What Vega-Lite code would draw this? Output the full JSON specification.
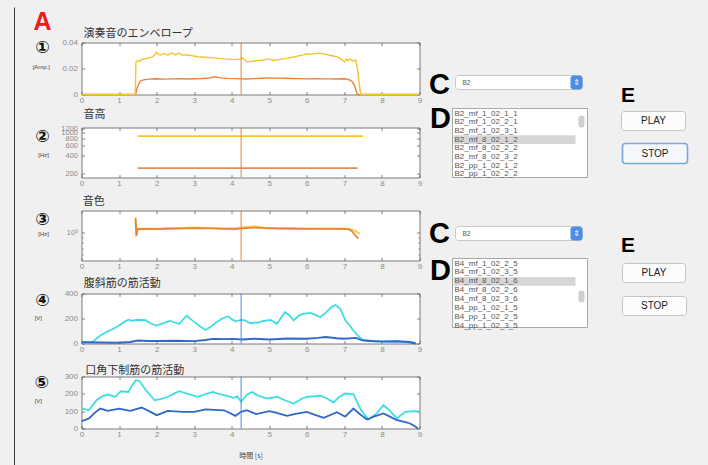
{
  "$schema": "https://vega.github.io/schema/vega-lite/v6.json",
  "background": "#f0f0f0",
  "padding": {"left": 13.5, "top": 6.5, "right": 8, "bottom": 0},
  "spacing": 4,
  "datasets": {
    "p1": [
      {"t":0,"v":0,"s":"O"},{"t":1.44,"v":0,"s":"O"},{"t":1.47,"v":0.004,"s":"O"},{"t":1.52,"v":0.008,"s":"O"},{"t":1.58,"v":0.0105,"s":"O"},{"t":1.65,"v":0.0113,"s":"O"},{"t":1.8,"v":0.0118,"s":"O"},{"t":2.0,"v":0.0121,"s":"O"},{"t":2.2,"v":0.0118,"s":"O"},{"t":2.4,"v":0.012,"s":"O"},{"t":2.6,"v":0.0122,"s":"O"},{"t":2.8,"v":0.0119,"s":"O"},{"t":3.0,"v":0.0121,"s":"O"},{"t":3.2,"v":0.0123,"s":"O"},{"t":3.4,"v":0.0127,"s":"O"},{"t":3.55,"v":0.0136,"s":"O"},{"t":3.7,"v":0.0128,"s":"O"},{"t":3.9,"v":0.0124,"s":"O"},{"t":4.1,"v":0.0122,"s":"O"},{"t":4.25,"v":0.012,"s":"O"},{"t":4.4,"v":0.0119,"s":"O"},{"t":4.6,"v":0.0122,"s":"O"},{"t":4.8,"v":0.0125,"s":"O"},{"t":5.0,"v":0.0128,"s":"O"},{"t":5.2,"v":0.0126,"s":"O"},{"t":5.4,"v":0.0125,"s":"O"},{"t":5.6,"v":0.0123,"s":"O"},{"t":5.8,"v":0.0122,"s":"O"},{"t":6.0,"v":0.012,"s":"O"},{"t":6.2,"v":0.0121,"s":"O"},{"t":6.4,"v":0.012,"s":"O"},{"t":6.6,"v":0.012,"s":"O"},{"t":6.8,"v":0.0119,"s":"O"},{"t":7.0,"v":0.0121,"s":"O"},{"t":7.1,"v":0.0117,"s":"O"},{"t":7.2,"v":0.0102,"s":"O"},{"t":7.27,"v":0.007,"s":"O"},{"t":7.32,"v":0.002,"s":"O"},{"t":7.35,"v":0,"s":"O"},{"t":9,"v":0,"s":"O"},
      {"t":0,"v":0,"s":"Y"},{"t":1.43,"v":0,"s":"Y"},{"t":1.45,"v":0.025,"s":"Y"},{"t":1.5,"v":0.0262,"s":"Y"},{"t":1.55,"v":0.0255,"s":"Y"},{"t":1.6,"v":0.027,"s":"Y"},{"t":1.7,"v":0.0275,"s":"Y"},{"t":1.8,"v":0.0282,"s":"Y"},{"t":1.9,"v":0.029,"s":"Y"},{"t":2.0,"v":0.0325,"s":"Y"},{"t":2.1,"v":0.0302,"s":"Y"},{"t":2.2,"v":0.0316,"s":"Y"},{"t":2.3,"v":0.0303,"s":"Y"},{"t":2.4,"v":0.032,"s":"Y"},{"t":2.5,"v":0.0305,"s":"Y"},{"t":2.6,"v":0.0318,"s":"Y"},{"t":2.7,"v":0.0301,"s":"Y"},{"t":2.8,"v":0.0306,"s":"Y"},{"t":2.95,"v":0.0298,"s":"Y"},{"t":3.1,"v":0.029,"s":"Y"},{"t":3.3,"v":0.0286,"s":"Y"},{"t":3.5,"v":0.0282,"s":"Y"},{"t":3.7,"v":0.0276,"s":"Y"},{"t":3.9,"v":0.0272,"s":"Y"},{"t":4.1,"v":0.0268,"s":"Y"},{"t":4.2,"v":0.0272,"s":"Y"},{"t":4.3,"v":0.028,"s":"Y"},{"t":4.4,"v":0.0252,"s":"Y"},{"t":4.55,"v":0.0256,"s":"Y"},{"t":4.7,"v":0.0262,"s":"Y"},{"t":4.85,"v":0.0265,"s":"Y"},{"t":5.0,"v":0.0274,"s":"Y"},{"t":5.1,"v":0.0262,"s":"Y"},{"t":5.3,"v":0.027,"s":"Y"},{"t":5.5,"v":0.028,"s":"Y"},{"t":5.7,"v":0.0292,"s":"Y"},{"t":5.9,"v":0.0305,"s":"Y"},{"t":6.0,"v":0.0313,"s":"Y"},{"t":6.1,"v":0.0309,"s":"Y"},{"t":6.3,"v":0.0318,"s":"Y"},{"t":6.5,"v":0.031,"s":"Y"},{"t":6.7,"v":0.0296,"s":"Y"},{"t":6.85,"v":0.0285,"s":"Y"},{"t":6.95,"v":0.0265,"s":"Y"},{"t":7.0,"v":0.025,"s":"Y"},{"t":7.05,"v":0.0272,"s":"Y"},{"t":7.1,"v":0.026,"s":"Y"},{"t":7.15,"v":0.0276,"s":"Y"},{"t":7.22,"v":0.0258,"s":"Y"},{"t":7.3,"v":0.0264,"s":"Y"},{"t":7.35,"v":0.02,"s":"Y"},{"t":7.4,"v":0.007,"s":"Y"},{"t":7.44,"v":0,"s":"Y"},{"t":9,"v":0,"s":"Y"}
    ],
    "p2": [
      {"t":1.5,"v":247,"s":"O"},{"t":7.35,"v":247,"s":"O"},
      {"t":1.5,"v":880,"s":"Y"},{"t":7.5,"v":880,"s":"Y"}
    ],
    "p3": [
      {"t":1.44,"v":1350,"s":"Y"},{"t":1.46,"v":960,"s":"Y"},{"t":1.5,"v":1095,"s":"Y"},{"t":1.7,"v":1100,"s":"Y"},{"t":2.0,"v":1095,"s":"Y"},{"t":2.3,"v":1105,"s":"Y"},{"t":2.6,"v":1110,"s":"Y"},{"t":3.0,"v":1125,"s":"Y"},{"t":3.4,"v":1115,"s":"Y"},{"t":3.8,"v":1100,"s":"Y"},{"t":4.1,"v":1110,"s":"Y"},{"t":4.3,"v":1125,"s":"Y"},{"t":4.6,"v":1150,"s":"Y"},{"t":4.9,"v":1120,"s":"Y"},{"t":5.2,"v":1110,"s":"Y"},{"t":5.6,"v":1105,"s":"Y"},{"t":6.0,"v":1100,"s":"Y"},{"t":6.4,"v":1098,"s":"Y"},{"t":6.8,"v":1100,"s":"Y"},{"t":7.1,"v":1095,"s":"Y"},{"t":7.25,"v":1060,"s":"Y"},{"t":7.35,"v":1000,"s":"Y"},{"t":7.42,"v":975,"s":"Y"},
      {"t":1.44,"v":1410,"s":"O"},{"t":1.46,"v":920,"s":"O"},{"t":1.5,"v":1080,"s":"O"},{"t":1.7,"v":1085,"s":"O"},{"t":2.0,"v":1082,"s":"O"},{"t":2.3,"v":1090,"s":"O"},{"t":2.6,"v":1095,"s":"O"},{"t":3.0,"v":1105,"s":"O"},{"t":3.4,"v":1100,"s":"O"},{"t":3.8,"v":1085,"s":"O"},{"t":4.1,"v":1080,"s":"O"},{"t":4.3,"v":1100,"s":"O"},{"t":4.6,"v":1120,"s":"O"},{"t":4.9,"v":1105,"s":"O"},{"t":5.2,"v":1095,"s":"O"},{"t":5.6,"v":1090,"s":"O"},{"t":6.0,"v":1088,"s":"O"},{"t":6.4,"v":1085,"s":"O"},{"t":6.8,"v":1088,"s":"O"},{"t":7.1,"v":1082,"s":"O"},{"t":7.2,"v":1030,"s":"O"},{"t":7.3,"v":930,"s":"O"},{"t":7.37,"v":870,"s":"O"}
    ],
    "p4": [
      {"t":0,"v":10,"s":"C"},{"t":0.2,"v":8,"s":"C"},{"t":0.3,"v":15,"s":"C"},{"t":0.5,"v":64,"s":"C"},{"t":0.65,"v":90,"s":"C"},{"t":0.8,"v":110,"s":"C"},{"t":1.0,"v":144,"s":"C"},{"t":1.15,"v":175,"s":"C"},{"t":1.25,"v":190,"s":"C"},{"t":1.35,"v":182,"s":"C"},{"t":1.5,"v":190,"s":"C"},{"t":1.7,"v":186,"s":"C"},{"t":1.85,"v":160,"s":"C"},{"t":2.0,"v":144,"s":"C"},{"t":2.2,"v":165,"s":"C"},{"t":2.35,"v":180,"s":"C"},{"t":2.45,"v":172,"s":"C"},{"t":2.6,"v":157,"s":"C"},{"t":2.8,"v":222,"s":"C"},{"t":2.95,"v":185,"s":"C"},{"t":3.1,"v":150,"s":"C"},{"t":3.3,"v":108,"s":"C"},{"t":3.45,"v":135,"s":"C"},{"t":3.6,"v":172,"s":"C"},{"t":3.75,"v":200,"s":"C"},{"t":3.9,"v":218,"s":"C"},{"t":4.0,"v":195,"s":"C"},{"t":4.1,"v":178,"s":"C"},{"t":4.25,"v":189,"s":"C"},{"t":4.35,"v":185,"s":"C"},{"t":4.5,"v":162,"s":"C"},{"t":4.7,"v":168,"s":"C"},{"t":4.85,"v":180,"s":"C"},{"t":5.03,"v":189,"s":"C"},{"t":5.2,"v":157,"s":"C"},{"t":5.3,"v":200,"s":"C"},{"t":5.42,"v":251,"s":"C"},{"t":5.55,"v":220,"s":"C"},{"t":5.65,"v":184,"s":"C"},{"t":5.8,"v":225,"s":"C"},{"t":5.9,"v":237,"s":"C"},{"t":6.1,"v":245,"s":"C"},{"t":6.25,"v":225,"s":"C"},{"t":6.36,"v":210,"s":"C"},{"t":6.5,"v":245,"s":"C"},{"t":6.65,"v":290,"s":"C"},{"t":6.76,"v":309,"s":"C"},{"t":6.89,"v":277,"s":"C"},{"t":7.03,"v":184,"s":"C"},{"t":7.15,"v":140,"s":"C"},{"t":7.24,"v":104,"s":"C"},{"t":7.4,"v":50,"s":"C"},{"t":7.5,"v":29,"s":"C"},{"t":7.7,"v":20,"s":"C"},{"t":8.0,"v":18,"s":"C"},{"t":8.3,"v":16,"s":"C"},{"t":8.6,"v":14,"s":"C"},{"t":8.8,"v":12,"s":"C"},{"t":8.9,"v":2,"s":"C"},
      {"t":0,"v":10,"s":"B"},{"t":0.5,"v":8,"s":"B"},{"t":1.0,"v":6,"s":"B"},{"t":1.3,"v":12,"s":"B"},{"t":1.5,"v":24,"s":"B"},{"t":1.8,"v":20,"s":"B"},{"t":2.0,"v":20,"s":"B"},{"t":2.5,"v":22,"s":"B"},{"t":3.0,"v":19,"s":"B"},{"t":3.3,"v":28,"s":"B"},{"t":3.5,"v":37,"s":"B"},{"t":3.8,"v":35,"s":"B"},{"t":4.0,"v":37,"s":"B"},{"t":4.3,"v":32,"s":"B"},{"t":4.6,"v":38,"s":"B"},{"t":5.0,"v":32,"s":"B"},{"t":5.5,"v":40,"s":"B"},{"t":6.0,"v":38,"s":"B"},{"t":6.3,"v":45,"s":"B"},{"t":6.5,"v":52,"s":"B"},{"t":6.8,"v":42,"s":"B"},{"t":7.0,"v":38,"s":"B"},{"t":7.3,"v":45,"s":"B"},{"t":7.5,"v":24,"s":"B"},{"t":7.8,"v":18,"s":"B"},{"t":8.0,"v":15,"s":"B"},{"t":8.4,"v":18,"s":"B"},{"t":8.7,"v":12,"s":"B"},{"t":8.9,"v":0,"s":"B"}
    ],
    "p5": [
      {"t":0,"v":115,"s":"C"},{"t":0.2,"v":106,"s":"C"},{"t":0.4,"v":163,"s":"C"},{"t":0.55,"v":185,"s":"C"},{"t":0.7,"v":196,"s":"C"},{"t":0.9,"v":183,"s":"C"},{"t":1.05,"v":215,"s":"C"},{"t":1.25,"v":211,"s":"C"},{"t":1.35,"v":250,"s":"C"},{"t":1.45,"v":279,"s":"C"},{"t":1.55,"v":273,"s":"C"},{"t":1.7,"v":225,"s":"C"},{"t":1.95,"v":163,"s":"C"},{"t":2.1,"v":170,"s":"C"},{"t":2.3,"v":183,"s":"C"},{"t":2.45,"v":200,"s":"C"},{"t":2.6,"v":215,"s":"C"},{"t":2.75,"v":205,"s":"C"},{"t":2.9,"v":196,"s":"C"},{"t":3.1,"v":183,"s":"C"},{"t":3.3,"v":198,"s":"C"},{"t":3.5,"v":211,"s":"C"},{"t":3.65,"v":200,"s":"C"},{"t":3.8,"v":192,"s":"C"},{"t":4.05,"v":177,"s":"C"},{"t":4.15,"v":185,"s":"C"},{"t":4.25,"v":154,"s":"C"},{"t":4.4,"v":195,"s":"C"},{"t":4.54,"v":211,"s":"C"},{"t":4.7,"v":190,"s":"C"},{"t":4.94,"v":173,"s":"C"},{"t":5.2,"v":183,"s":"C"},{"t":5.45,"v":160,"s":"C"},{"t":5.65,"v":144,"s":"C"},{"t":5.85,"v":170,"s":"C"},{"t":6.0,"v":183,"s":"C"},{"t":6.2,"v":186,"s":"C"},{"t":6.36,"v":189,"s":"C"},{"t":6.55,"v":172,"s":"C"},{"t":6.71,"v":150,"s":"C"},{"t":6.85,"v":180,"s":"C"},{"t":7.02,"v":202,"s":"C"},{"t":7.24,"v":198,"s":"C"},{"t":7.42,"v":115,"s":"C"},{"t":7.64,"v":52,"s":"C"},{"t":7.86,"v":87,"s":"C"},{"t":8.04,"v":135,"s":"C"},{"t":8.2,"v":104,"s":"C"},{"t":8.4,"v":58,"s":"C"},{"t":8.62,"v":96,"s":"C"},{"t":8.84,"v":100,"s":"C"},{"t":9.0,"v":98,"s":"C"},
      {"t":0,"v":42,"s":"B"},{"t":0.2,"v":58,"s":"B"},{"t":0.35,"v":90,"s":"B"},{"t":0.5,"v":115,"s":"B"},{"t":0.7,"v":102,"s":"B"},{"t":1.0,"v":115,"s":"B"},{"t":1.3,"v":102,"s":"B"},{"t":1.6,"v":121,"s":"B"},{"t":1.8,"v":100,"s":"B"},{"t":2.0,"v":77,"s":"B"},{"t":2.3,"v":102,"s":"B"},{"t":2.7,"v":96,"s":"B"},{"t":3.0,"v":96,"s":"B"},{"t":3.3,"v":110,"s":"B"},{"t":3.8,"v":105,"s":"B"},{"t":4.1,"v":73,"s":"B"},{"t":4.25,"v":96,"s":"B"},{"t":4.4,"v":106,"s":"B"},{"t":4.65,"v":83,"s":"B"},{"t":5.0,"v":100,"s":"B"},{"t":5.2,"v":90,"s":"B"},{"t":5.47,"v":73,"s":"B"},{"t":5.7,"v":85,"s":"B"},{"t":6.0,"v":96,"s":"B"},{"t":6.2,"v":80,"s":"B"},{"t":6.45,"v":62,"s":"B"},{"t":6.8,"v":94,"s":"B"},{"t":7.02,"v":69,"s":"B"},{"t":7.24,"v":115,"s":"B"},{"t":7.4,"v":85,"s":"B"},{"t":7.6,"v":52,"s":"B"},{"t":7.8,"v":70,"s":"B"},{"t":8.04,"v":87,"s":"B"},{"t":8.2,"v":70,"s":"B"},{"t":8.4,"v":48,"s":"B"},{"t":8.6,"v":38,"s":"B"},{"t":8.75,"v":29,"s":"B"},{"t":8.9,"v":10,"s":"B"},{"t":8.95,"v":0,"s":"B"}
    ],
    "cursor": [{"t": 4.25}],
    "uiList": [{"x":2.2,"x2":15.7,"y":10.15,"y2":17.05},{"x":2.2,"x2":15.7,"y":25.15,"y2":32.05}],
    "uiHi": [{"x":2.3,"x2":14.5,"y":12.83,"y2":13.7},{"x":2.3,"x2":14.5,"y":26.99,"y2":27.87}],
    "uiThumb": [{"x":14.8,"x2":15.4,"y":10.85,"y2":12.05},{"x":14.8,"x2":15.4,"y":28.35,"y2":29.55}],
    "uiDrop": [{"x":2.5,"x2":15.2,"y":6.85,"y2":8.25},{"x":2.5,"x2":15.2,"y":21.95,"y2":23.35}],
    "uiArrow": [{"x":14.0,"x2":15.2,"y":6.85,"y2":8.25,"cx":14.6,"cy":7.6},{"x":14.0,"x2":15.2,"y":21.95,"y2":23.35,"cx":14.6,"cy":22.7}],
    "uiDropText": [{"x":3.2,"y":7.55,"label":"B2"},{"x":3.2,"y":22.65,"label":"B2"}],
    "uiBtn": [
      {"x":19.1,"x2":25.5,"y":10.45,"y2":12.35,"cx":22.3,"cy":11.4,"label":"PLAY","state":"normal"},
      {"x":19.2,"x2":25.7,"y":13.65,"y2":15.65,"cx":22.45,"cy":14.65,"label":"STOP","state":"focus"},
      {"x":19.2,"x2":25.5,"y":25.65,"y2":27.55,"cx":22.35,"cy":26.6,"label":"PLAY","state":"normal"},
      {"x":19.2,"x2":25.6,"y":28.95,"y2":30.85,"cx":22.4,"cy":29.9,"label":"STOP","state":"normal"}
    ],
    "uiItems": [
      {"x":2.4,"y":10.65,"label":"B2_mf_1_02_1_1"},{"x":2.4,"y":11.52,"label":"B2_mf_1_02_2_1"},{"x":2.4,"y":12.39,"label":"B2_mf_1_02_3_1"},{"x":2.4,"y":13.26,"label":"B2_mf_8_02_1_2"},{"x":2.4,"y":14.13,"label":"B2_mf_8_02_2_2"},{"x":2.4,"y":15.0,"label":"B2_mf_8_02_3_2"},{"x":2.4,"y":15.87,"label":"B2_pp_1_02_1_2"},{"x":2.4,"y":16.74,"label":"B2_pp_1_02_2_2"},
      {"x":2.4,"y":25.65,"label":"B4_mf_1_02_2_5"},{"x":2.4,"y":26.54,"label":"B4_mf_1_02_3_5"},{"x":2.4,"y":27.43,"label":"B4_mf_8_02_1_6"},{"x":2.4,"y":28.32,"label":"B4_mf_8_02_2_6"},{"x":2.4,"y":29.21,"label":"B4_mf_8_02_3_6"},{"x":2.4,"y":30.1,"label":"B4_pp_1_02_1_5"},{"x":2.4,"y":30.99,"label":"B4_pp_1_02_2_5"},{"x":2.4,"y":31.88,"label":"B4_pp_1_02_3_5"}
    ],
    "uiBig": [{"x":0.9,"y":7.75,"label":"C"},{"x":1.0,"y":11.15,"label":"D"},{"x":0.9,"y":22.65,"label":"C"},{"x":1.0,"y":26.35,"label":"D"}],
    "uiE": [{"x":19.75,"y":8.85,"label":"E"},{"x":19.75,"y":23.9,"label":"E"}]
  },
  "hconcat": [
    {
      "vconcat": [
        {
          "width": 338, "height": 52,
          "layer": [
            {
              "data": {"name": "p1"},
              "mark": {"type": "line", "strokeWidth": 1.4},
              "encoding": {
                "x": {"field": "t", "type": "quantitative", "scale": {"domain": [0, 9]}, "axis": {"values": [0,1,2,3,4,5,6,7,8,9], "title": null}},
                "y": {"field": "v", "type": "quantitative", "scale": {"domain": [0, 0.04]}, "axis": {"values": [0, 0.02, 0.04], "format": ".2~f", "title": null}},
                "color": {"field": "s", "type": "nominal", "scale": {"domain": ["O", "Y"], "range": ["#e8843c", "#f2c62e"]}, "legend": null}
              }
            },
            {
              "data": {"name": "cursor"},
              "mark": {"type": "rule", "color": "#e8843c", "strokeWidth": 1},
              "encoding": {"x": {"field": "t", "type": "quantitative", "scale": {"domain": [0, 9]}, "axis": {"orient": "top", "labels": false, "values": [0,1,2,3,4,5,6,7,8,9], "title": null}}}
            },
            {
              "data": {"values": [{"x": -1.04, "y": 0.0354, "label": "①"}]},
              "mark": {"type": "text", "font": "DejaVu Sans", "fontWeight": "bold", "fontSize": 17, "align": "center", "baseline": "middle", "color": "#111"},
              "encoding": {
                "x": {"field": "x", "type": "quantitative", "scale": {"domain": [0, 9]}, "axis": null},
                "y": {"field": "y", "type": "quantitative", "scale": {"domain": [0, 0.04]}, "axis": {"orient": "right", "labels": false, "values": [0, 0.02, 0.04], "title": null}},
                "text": {"field": "label"}
              }
            },
            {
              "data": {"values": [{"x": -1.07, "y": 0.0208, "label": "[Amp.]"}]},
              "mark": {"type": "text", "font": "Liberation Sans", "fontSize": 6, "align": "center", "baseline": "middle", "color": "#444"},
              "encoding": {
                "x": {"field": "x", "type": "quantitative", "scale": {"domain": [0, 9]}, "axis": null},
                "y": {"field": "y", "type": "quantitative", "scale": {"domain": [0, 0.04]}, "axis": null},
                "text": {"field": "label"}
              }
            },
            {
              "data": {"values": [{"x": 0.05, "y": 0.0469, "label": "演奏音のエンベロープ"}]},
              "mark": {"type": "text", "font": "Noto Sans CJK JP", "fontSize": 11, "align": "left", "baseline": "middle", "color": "#333"},
              "encoding": {
                "x": {"field": "x", "type": "quantitative", "scale": {"domain": [0, 9]}, "axis": null},
                "y": {"field": "y", "type": "quantitative", "scale": {"domain": [0, 0.04]}, "axis": null},
                "text": {"field": "label"}
              }
            },
            {
              "data": {"values": [{"x": -1.04, "y": 0.0554, "label": "A"}]},
              "mark": {"type": "text", "font": "Liberation Sans", "fontWeight": "bold", "fontSize": 25, "align": "center", "baseline": "middle", "color": "#f01818"},
              "encoding": {
                "x": {"field": "x", "type": "quantitative", "scale": {"domain": [0, 9]}, "axis": null},
                "y": {"field": "y", "type": "quantitative", "scale": {"domain": [0, 0.04]}, "axis": null},
                "text": {"field": "label"}
              }
            },
            {
              "data": {"values": [{"x": -1.784, "y": 0.06692, "y2": -0.28538}]},
              "mark": {"type": "rule", "color": "#3a3a3a", "strokeWidth": 1},
              "encoding": {
                "x": {"field": "x", "type": "quantitative", "scale": {"domain": [0, 9]}, "axis": null},
                "y": {"field": "y", "type": "quantitative", "scale": {"domain": [0, 0.04]}, "axis": null},
                "y2": {"field": "y2"}
              }
            }
          ],
          "resolve": {"axis": {"x": "independent", "y": "independent"}}
        },
        {
          "width": 338, "height": 50,
          "layer": [
            {
              "data": {"name": "p2"},
              "mark": {"type": "line", "strokeWidth": 1.8},
              "encoding": {
                "x": {"field": "t", "type": "quantitative", "scale": {"domain": [0, 9]}, "axis": {"values": [0,1,2,3,4,5,6,7,8,9], "title": null}},
                "y": {"field": "v", "type": "quantitative", "scale": {"type": "log", "domain": [171, 1233]}, "axis": {"values": [200, 400, 600, 800, 1000, 1200], "format": "d", "labelOverlap": false, "labelFontSize": 7.5, "title": null}},
                "color": {"field": "s", "type": "nominal", "scale": {"domain": ["O", "Y"], "range": ["#ec8a4e", "#f2c62e"]}, "legend": null}
              }
            },
            {
              "data": {"name": "cursor"},
              "mark": {"type": "rule", "color": "#e8843c", "strokeWidth": 1},
              "encoding": {"x": {"field": "t", "type": "quantitative", "scale": {"domain": [0, 9]}, "axis": {"orient": "top", "labels": false, "values": [0,1,2,3,4,5,6,7,8,9], "title": null}}}
            },
            {
              "data": {"values": [{"x": -1.04, "y": 864, "label": "②"}]},
              "mark": {"type": "text", "font": "DejaVu Sans", "fontWeight": "bold", "fontSize": 17, "align": "center", "baseline": "middle", "color": "#111"},
              "encoding": {
                "x": {"field": "x", "type": "quantitative", "scale": {"domain": [0, 9]}, "axis": null},
                "y": {"field": "y", "type": "quantitative", "scale": {"type": "log", "domain": [171, 1233]}, "axis": {"orient": "right", "labels": false, "values": [200, 400, 600, 800, 1000, 1200], "title": null}},
                "text": {"field": "label"}
              }
            },
            {
              "data": {"values": [{"x": -1.01, "y": 408, "label": "[Hz]"}]},
              "mark": {"type": "text", "font": "Liberation Sans", "fontSize": 6, "align": "center", "baseline": "middle", "color": "#444"},
              "encoding": {
                "x": {"field": "x", "type": "quantitative", "scale": {"domain": [0, 9]}, "axis": null},
                "y": {"field": "y", "type": "quantitative", "scale": {"type": "log", "domain": [171, 1233]}, "axis": null},
                "text": {"field": "label"}
              }
            },
            {
              "data": {"values": [{"x": 0.05, "y": 2060, "label": "音高"}]},
              "mark": {"type": "text", "font": "Noto Sans CJK JP", "fontSize": 11, "align": "left", "baseline": "middle", "color": "#333"},
              "encoding": {
                "x": {"field": "x", "type": "quantitative", "scale": {"domain": [0, 9]}, "axis": null},
                "y": {"field": "y", "type": "quantitative", "scale": {"type": "log", "domain": [171, 1233]}, "axis": null},
                "text": {"field": "label"}
              }
            }
          ],
          "resolve": {"axis": {"x": "independent", "y": "independent"}}
        },
        {
          "width": 338, "height": 50,
          "layer": [
            {
              "data": {"name": "p3"},
              "mark": {"type": "line", "strokeWidth": 1.8},
              "encoding": {
                "x": {"field": "t", "type": "quantitative", "scale": {"domain": [0, 9]}, "axis": {"values": [0,1,2,3,4,5,6,7,8,9], "title": null}},
                "y": {"field": "v", "type": "quantitative", "scale": {"type": "log", "domain": [525, 1660]}, "axis": {"values": [600, 700, 800, 900, 1000], "labelExpr": "datum.value == 1000 ? '10³' : ''", "labelOverlap": false, "tickSize": {"condition": {"test": "datum.value == 1000", "value": -3}, "value": -1.5}, "title": null}},
                "color": {"field": "s", "type": "nominal", "scale": {"domain": ["Y", "O"], "range": ["#f5cf3a", "#e8843c"]}, "legend": null}
              }
            },
            {
              "data": {"name": "cursor"},
              "mark": {"type": "rule", "color": "#e8843c", "strokeWidth": 1},
              "encoding": {"x": {"field": "t", "type": "quantitative", "scale": {"domain": [0, 9]}, "axis": {"orient": "top", "labels": false, "values": [0,1,2,3,4,5,6,7,8,9], "title": null}}}
            },
            {
              "data": {"values": [{"x": -1.04, "y": 1349, "label": "③"}]},
              "mark": {"type": "text", "font": "DejaVu Sans", "fontWeight": "bold", "fontSize": 17, "align": "center", "baseline": "middle", "color": "#111"},
              "encoding": {
                "x": {"field": "x", "type": "quantitative", "scale": {"domain": [0, 9]}, "axis": null},
                "y": {"field": "y", "type": "quantitative", "scale": {"type": "log", "domain": [525, 1660]}, "axis": {"orient": "right", "labels": false, "values": [600, 700, 800, 900, 1000], "tickSize": {"condition": {"test": "datum.value == 1000", "value": -3}, "value": -1.5}, "title": null}},
                "text": {"field": "label"}
              }
            },
            {
              "data": {"values": [{"x": -1.01, "y": 977, "label": "[Hz]"}]},
              "mark": {"type": "text", "font": "Liberation Sans", "fontSize": 6, "align": "center", "baseline": "middle", "color": "#444"},
              "encoding": {
                "x": {"field": "x", "type": "quantitative", "scale": {"domain": [0, 9]}, "axis": null},
                "y": {"field": "y", "type": "quantitative", "scale": {"type": "log", "domain": [525, 1660]}, "axis": null},
                "text": {"field": "label"}
              }
            },
            {
              "data": {"values": [{"x": 0.03, "y": 2019, "label": "音色"}]},
              "mark": {"type": "text", "font": "Noto Sans CJK JP", "fontSize": 11, "align": "left", "baseline": "middle", "color": "#333"},
              "encoding": {
                "x": {"field": "x", "type": "quantitative", "scale": {"domain": [0, 9]}, "axis": null},
                "y": {"field": "y", "type": "quantitative", "scale": {"type": "log", "domain": [525, 1660]}, "axis": null},
                "text": {"field": "label"}
              }
            }
          ],
          "resolve": {"axis": {"x": "independent", "y": "independent"}}
        },
        {
          "width": 338, "height": 50,
          "layer": [
            {
              "data": {"name": "p4"},
              "mark": {"type": "line", "strokeWidth": 1.8},
              "encoding": {
                "x": {"field": "t", "type": "quantitative", "scale": {"domain": [0, 9]}, "axis": {"values": [0,1,2,3,4,5,6,7,8,9], "title": null}},
                "y": {"field": "v", "type": "quantitative", "scale": {"domain": [0, 400]}, "axis": {"values": [0, 200, 400], "title": null}},
                "color": {"field": "s", "type": "nominal", "scale": {"domain": ["C", "B"], "range": ["#3fdde3", "#2f68c9"]}, "legend": null}
              }
            },
            {
              "data": {"name": "cursor"},
              "mark": {"type": "rule", "color": "#4a8ae0", "strokeWidth": 1},
              "encoding": {"x": {"field": "t", "type": "quantitative", "scale": {"domain": [0, 9]}, "axis": {"orient": "top", "labels": false, "values": [0,1,2,3,4,5,6,7,8,9], "title": null}}}
            },
            {
              "data": {"values": [{"x": -1.04, "y": 344, "label": "④"}]},
              "mark": {"type": "text", "font": "DejaVu Sans", "fontWeight": "bold", "fontSize": 17, "align": "center", "baseline": "middle", "color": "#111"},
              "encoding": {
                "x": {"field": "x", "type": "quantitative", "scale": {"domain": [0, 9]}, "axis": null},
                "y": {"field": "y", "type": "quantitative", "scale": {"domain": [0, 400]}, "axis": {"orient": "right", "labels": false, "values": [0, 200, 400], "title": null}},
                "text": {"field": "label"}
              }
            },
            {
              "data": {"values": [{"x": -1.15, "y": 208, "label": "[V]"}]},
              "mark": {"type": "text", "font": "Liberation Sans", "fontSize": 6, "align": "center", "baseline": "middle", "color": "#444"},
              "encoding": {
                "x": {"field": "x", "type": "quantitative", "scale": {"domain": [0, 9]}, "axis": null},
                "y": {"field": "y", "type": "quantitative", "scale": {"domain": [0, 400]}, "axis": null},
                "text": {"field": "label"}
              }
            },
            {
              "data": {"values": [{"x": 0.06, "y": 480, "label": "腹斜筋の筋活動"}]},
              "mark": {"type": "text", "font": "Noto Sans CJK JP", "fontSize": 11, "align": "left", "baseline": "middle", "color": "#333"},
              "encoding": {
                "x": {"field": "x", "type": "quantitative", "scale": {"domain": [0, 9]}, "axis": null},
                "y": {"field": "y", "type": "quantitative", "scale": {"domain": [0, 400]}, "axis": null},
                "text": {"field": "label"}
              }
            }
          ],
          "resolve": {"axis": {"x": "independent", "y": "independent"}}
        },
        {
          "width": 338, "height": 52,
          "layer": [
            {
              "data": {"name": "p5"},
              "mark": {"type": "line", "strokeWidth": 1.8},
              "encoding": {
                "x": {"field": "t", "type": "quantitative", "scale": {"domain": [0, 9]}, "axis": {"values": [0,1,2,3,4,5,6,7,8,9], "title": "時間 [s]", "titleFont": "Noto Sans CJK JP", "titleFontSize": 7, "titleFontWeight": "normal", "titleColor": "#444", "titlePadding": 13}},
                "y": {"field": "v", "type": "quantitative", "scale": {"domain": [0, 300]}, "axis": {"values": [0, 100, 200, 300], "title": null}},
                "color": {"field": "s", "type": "nominal", "scale": {"domain": ["C", "B"], "range": ["#3fdde3", "#2f68c9"]}, "legend": null}
              }
            },
            {
              "data": {"name": "cursor"},
              "mark": {"type": "rule", "color": "#4a8ae0", "strokeWidth": 1},
              "encoding": {"x": {"field": "t", "type": "quantitative", "scale": {"domain": [0, 9]}, "axis": {"orient": "top", "labels": false, "values": [0,1,2,3,4,5,6,7,8,9], "title": null}}}
            },
            {
              "data": {"values": [{"x": -1.06, "y": 260, "label": "⑤"}]},
              "mark": {"type": "text", "font": "DejaVu Sans", "fontWeight": "bold", "fontSize": 17, "align": "center", "baseline": "middle", "color": "#111"},
              "encoding": {
                "x": {"field": "x", "type": "quantitative", "scale": {"domain": [0, 9]}, "axis": null},
                "y": {"field": "y", "type": "quantitative", "scale": {"domain": [0, 300]}, "axis": {"orient": "right", "labels": false, "values": [0, 100, 200, 300], "title": null}},
                "text": {"field": "label"}
              }
            },
            {
              "data": {"values": [{"x": -1.15, "y": 156, "label": "[V]"}]},
              "mark": {"type": "text", "font": "Liberation Sans", "fontSize": 6, "align": "center", "baseline": "middle", "color": "#444"},
              "encoding": {
                "x": {"field": "x", "type": "quantitative", "scale": {"domain": [0, 9]}, "axis": null},
                "y": {"field": "y", "type": "quantitative", "scale": {"domain": [0, 300]}, "axis": null},
                "text": {"field": "label"}
              }
            },
            {
              "data": {"values": [{"x": 0.1, "y": 331.7, "label": "口角下制筋の筋活動"}]},
              "mark": {"type": "text", "font": "Noto Sans CJK JP", "fontSize": 11, "align": "left", "baseline": "middle", "color": "#333"},
              "encoding": {
                "x": {"field": "x", "type": "quantitative", "scale": {"domain": [0, 9]}, "axis": null},
                "y": {"field": "y", "type": "quantitative", "scale": {"domain": [0, 300]}, "axis": null},
                "text": {"field": "label"}
              }
            }
          ],
          "resolve": {"axis": {"x": "independent", "y": "independent"}}
        }
      ],
      "spacing": 33,
      "bounds": "flush",
      "resolve": {"scale": {"color": "independent"}}
    },
    {
      "width": 270, "height": 400,
      "view": {"stroke": "transparent", "fill": "transparent"},
      "layer": [
        {
          "data": {"name": "uiList"},
          "mark": {"type": "rect", "fill": "#ffffff", "stroke": "#a9a9a9", "strokeWidth": 1},
          "encoding": {
            "x": {"field": "x", "type": "quantitative", "scale": {"domain": [0, 27]}, "axis": null}, "x2": {"field": "x2"},
            "y": {"field": "y", "type": "quantitative", "scale": {"domain": [3.55, 43.55], "reverse": true}, "axis": null}, "y2": {"field": "y2"}
          }
        },
        {
          "data": {"name": "uiHi"},
          "mark": {"type": "rect", "fill": "#d6d6d6"},
          "encoding": {
            "x": {"field": "x", "type": "quantitative", "scale": {"domain": [0, 27]}, "axis": null}, "x2": {"field": "x2"},
            "y": {"field": "y", "type": "quantitative", "scale": {"domain": [3.55, 43.55], "reverse": true}, "axis": null}, "y2": {"field": "y2"}
          }
        },
        {
          "data": {"name": "uiThumb"},
          "mark": {"type": "rect", "fill": "#cfcfcf", "cornerRadius": 2.5},
          "encoding": {
            "x": {"field": "x", "type": "quantitative", "scale": {"domain": [0, 27]}, "axis": null}, "x2": {"field": "x2"},
            "y": {"field": "y", "type": "quantitative", "scale": {"domain": [3.55, 43.55], "reverse": true}, "axis": null}, "y2": {"field": "y2"}
          }
        },
        {
          "data": {"name": "uiDrop"},
          "mark": {"type": "rect", "fill": "#ffffff", "stroke": "#c8c8c8", "strokeWidth": 1, "cornerRadius": 3},
          "encoding": {
            "x": {"field": "x", "type": "quantitative", "scale": {"domain": [0, 27]}, "axis": null}, "x2": {"field": "x2"},
            "y": {"field": "y", "type": "quantitative", "scale": {"domain": [3.55, 43.55], "reverse": true}, "axis": null}, "y2": {"field": "y2"}
          }
        },
        {
          "data": {"name": "uiArrow"},
          "mark": {"type": "rect", "fill": "#4b8ee6", "cornerRadius": 3},
          "encoding": {
            "x": {"field": "x", "type": "quantitative", "scale": {"domain": [0, 27]}, "axis": null}, "x2": {"field": "x2"},
            "y": {"field": "y", "type": "quantitative", "scale": {"domain": [3.55, 43.55], "reverse": true}, "axis": null}, "y2": {"field": "y2"}
          }
        },
        {
          "data": {"name": "uiArrow"},
          "mark": {"type": "text", "text": "⇕", "font": "DejaVu Sans", "fontSize": 8, "color": "#ffffff", "align": "center", "baseline": "middle"},
          "encoding": {
            "x": {"field": "cx", "type": "quantitative", "scale": {"domain": [0, 27]}, "axis": null},
            "y": {"field": "cy", "type": "quantitative", "scale": {"domain": [3.55, 43.55], "reverse": true}, "axis": null}
          }
        },
        {
          "data": {"name": "uiDropText"},
          "mark": {"type": "text", "font": "Liberation Sans", "fontSize": 6.5, "color": "#555", "align": "left", "baseline": "middle"},
          "encoding": {
            "x": {"field": "x", "type": "quantitative", "scale": {"domain": [0, 27]}, "axis": null},
            "y": {"field": "y", "type": "quantitative", "scale": {"domain": [3.55, 43.55], "reverse": true}, "axis": null},
            "text": {"field": "label"}
          }
        },
        {
          "data": {"name": "uiBtn"},
          "transform": [{"filter": "datum.state == 'normal'"}],
          "mark": {"type": "rect", "fill": "#fcfcfc", "stroke": "#c4c4c4", "strokeWidth": 1, "cornerRadius": 3},
          "encoding": {
            "x": {"field": "x", "type": "quantitative", "scale": {"domain": [0, 27]}, "axis": null}, "x2": {"field": "x2"},
            "y": {"field": "y", "type": "quantitative", "scale": {"domain": [3.55, 43.55], "reverse": true}, "axis": null}, "y2": {"field": "y2"}
          }
        },
        {
          "data": {"name": "uiBtn"},
          "transform": [{"filter": "datum.state == 'focus'"}],
          "mark": {"type": "rect", "fill": "#f4f8fd", "stroke": "#7ba6dc", "strokeWidth": 1.6, "cornerRadius": 3},
          "encoding": {
            "x": {"field": "x", "type": "quantitative", "scale": {"domain": [0, 27]}, "axis": null}, "x2": {"field": "x2"},
            "y": {"field": "y", "type": "quantitative", "scale": {"domain": [3.55, 43.55], "reverse": true}, "axis": null}, "y2": {"field": "y2"}
          }
        },
        {
          "data": {"name": "uiBtn"},
          "mark": {"type": "text", "font": "Liberation Sans", "fontSize": 10, "color": "#222", "align": "center", "baseline": "middle"},
          "encoding": {
            "x": {"field": "cx", "type": "quantitative", "scale": {"domain": [0, 27]}, "axis": null},
            "y": {"field": "cy", "type": "quantitative", "scale": {"domain": [3.55, 43.55], "reverse": true}, "axis": null},
            "text": {"field": "label"}
          }
        },
        {
          "data": {"name": "uiItems"},
          "mark": {"type": "text", "font": "Liberation Sans", "fontSize": 8, "color": "#555", "align": "left", "baseline": "middle"},
          "encoding": {
            "x": {"field": "x", "type": "quantitative", "scale": {"domain": [0, 27]}, "axis": null},
            "y": {"field": "y", "type": "quantitative", "scale": {"domain": [3.55, 43.55], "reverse": true}, "axis": null},
            "text": {"field": "label"}
          }
        },
        {
          "data": {"name": "uiBig"},
          "mark": {"type": "text", "font": "Liberation Sans", "fontWeight": "bold", "fontSize": 29, "color": "#000", "align": "center", "baseline": "middle"},
          "encoding": {
            "x": {"field": "x", "type": "quantitative", "scale": {"domain": [0, 27]}, "axis": null},
            "y": {"field": "y", "type": "quantitative", "scale": {"domain": [3.55, 43.55], "reverse": true}, "axis": null},
            "text": {"field": "label"}
          }
        },
        {
          "data": {"name": "uiE"},
          "mark": {"type": "text", "font": "Liberation Sans", "fontWeight": "bold", "fontSize": 21, "color": "#000", "align": "center", "baseline": "middle"},
          "encoding": {
            "x": {"field": "x", "type": "quantitative", "scale": {"domain": [0, 27]}, "axis": null},
            "y": {"field": "y", "type": "quantitative", "scale": {"domain": [3.55, 43.55], "reverse": true}, "axis": null},
            "text": {"field": "label"}
          }
        }
      ]
    }
  ],
  "config": {
    "view": {"stroke": "#7a7a7a", "fill": "#ffffff", "strokeWidth": 1},
    "axis": {"domain": false, "grid": false, "tickSize": -3, "tickColor": "#666", "tickWidth": 0.8, "labelFont": "Liberation Sans", "labelFontSize": 8, "labelColor": "#8c8c8c", "labelPadding": 5, "labelFlush": false},
    "axisY": {"labelPadding": 7}
  }
}
